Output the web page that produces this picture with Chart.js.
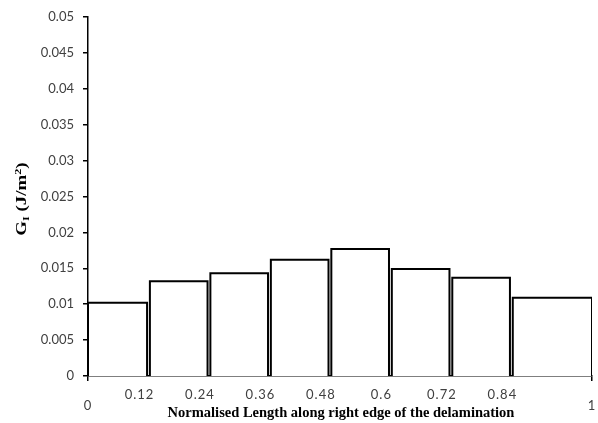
<!DOCTYPE html>
<html>
<head>
<meta charset="utf-8">
<script src="https://cdn.jsdelivr.net/npm/chart.js@4"></script>
<style>
  html, body { margin: 0; padding: 0; background: #fff; }
  #wrap { width: 598px; height: 423px; }
</style>
</head>
<body>
<div id="wrap"><canvas id="c" width="598" height="423"></canvas></div>
<script>
// Segment boundaries along the normalised edge length
const binEdges = [0, 0.12, 0.24, 0.36, 0.48, 0.6, 0.72, 0.84, 1];
// Strain energy release rate G_I for each segment (J/m^2)
const giValues = [0.0102, 0.0132, 0.0143, 0.0162, 0.0177, 0.0149, 0.0137, 0.0109];
// Labels printed under the horizontal axis
const xTickLabels = [0, 0.12, 0.24, 0.36, 0.48, 0.6, 0.72, 0.84, 1];

const BAR_INSET = 0.0028;       // small white gap between neighbouring bars
const LABEL_COLOR = '#404040';

// Each segment is drawn as a closed outlined rectangle
const datasets = giValues.map((v, i) => {
  const x0 = binEdges[i] + (i === 0 ? 0 : BAR_INSET);
  const x1 = binEdges[i + 1] - (i === giValues.length - 1 ? 0 : BAR_INSET);
  return {
    data: [{ x: x0, y: 0 }, { x: x0, y: v }, { x: x1, y: v }, { x: x1, y: 0 }],
    showLine: true,
    fill: 'origin',
    backgroundColor: '#ffffff',
    borderColor: '#000000',
    borderWidth: 2,
    pointRadius: 0,
    tension: 0
  };
});

const axisText = {
  id: 'axisText',
  afterDraw(chart) {
    const ctx = chart.ctx;
    const xs = chart.scales.x;
    ctx.save();
    // category labels along the bottom
    ctx.fillStyle = LABEL_COLOR;
    ctx.font = '13px Lato';
    ctx.letterSpacing = '1px';
    ctx.textAlign = 'center';
    ctx.textBaseline = 'middle';
    xTickLabels.forEach(v => {
      const px = xs.getPixelForValue(v);
      const ends = (v === 0 || v === 1);
      ctx.fillText(String(v), ends ? px : px - 9, ends ? 406 : 395);
    });
    ctx.letterSpacing = '0px';

    // horizontal axis title
    ctx.fillStyle = '#000';
    ctx.font = 'bold 14.5px "Liberation Serif"';
    ctx.fillText('Normalised Length along right edge of the delamination', 341, 413);

    // vertical axis title: G_I (J/m^2), drawn slightly elongated
    ctx.translate(21, 199);
    ctx.rotate(-Math.PI / 2);
    ctx.scale(1.35, 1);
    const parts = [
      { t: 'G', f: 'bold 14px "Liberation Serif"', dy: 0 },
      { t: 'I', f: 'bold 9px "Liberation Serif"', dy: 3 },
      { t: ' (J/m', f: 'bold 14px "Liberation Serif"', dy: 0 },
      { t: '2', f: 'bold 9px "Liberation Serif"', dy: -5 },
      { t: ')', f: 'bold 14px "Liberation Serif"', dy: 0 }
    ];
    let total = 0;
    parts.forEach(p => { ctx.font = p.f; total += ctx.measureText(p.t).width; });
    let x = -total / 2;
    ctx.textAlign = 'left';
    ctx.textBaseline = 'alphabetic';
    parts.forEach(p => {
      ctx.font = p.f;
      ctx.fillText(p.t, x, 5 + p.dy);
      x += ctx.measureText(p.t).width;
    });
    ctx.restore();
  }
};

new Chart(document.getElementById('c'), {
  type: 'scatter',
  data: { datasets },
  options: {
    responsive: false,
    animation: false,
    layout: { padding: { top: 17, right: 6, left: 0, bottom: 0 } },
    plugins: { legend: { display: false }, tooltip: { enabled: false } },
    scales: {
      x: {
        type: 'linear',
        min: 0,
        max: 1,
        afterBuildTicks(scale) { scale.ticks = [{ value: 0 }, { value: 1 }]; },
        afterFit(scale) { scale.height = 47; },
        ticks: { display: false },
        grid: { drawOnChartArea: false, tickLength: 5, tickColor: '#000', lineWidth: 1.5 },
        border: { color: '#000', width: 1.5 }
      },
      y: {
        min: 0,
        max: 0.05,
        afterFit(scale) { scale.width = 88; },
        ticks: {
          stepSize: 0.005,
          padding: 9,
          color: LABEL_COLOR,
          font: { family: 'Lato', size: 13 },
          callback: v => String(Number(v.toFixed(3)))
        },
        grid: { drawOnChartArea: false, tickLength: 5, tickColor: '#000', lineWidth: 1.5 },
        border: { color: '#000', width: 1.5 }
      }
    }
  },
  plugins: [axisText]
});
</script>
</body>
</html>
